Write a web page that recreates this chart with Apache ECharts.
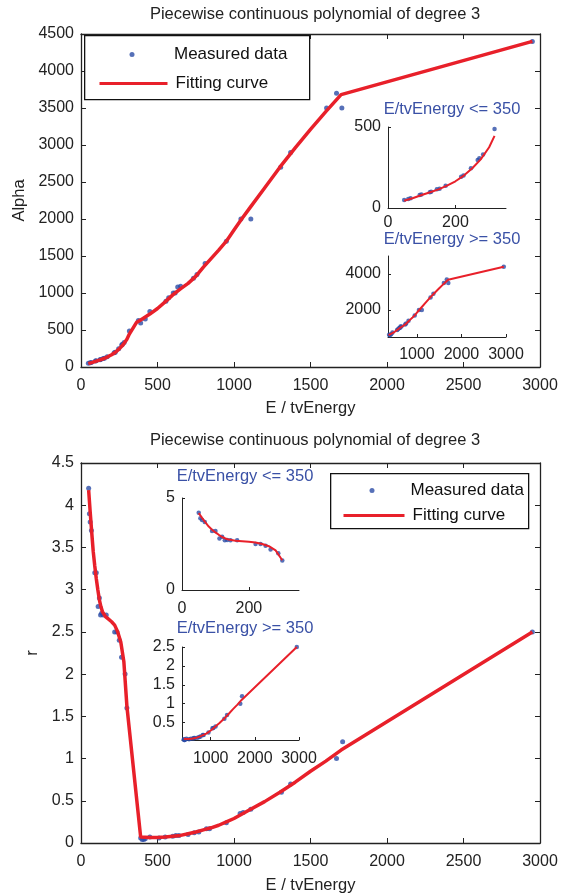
<!DOCTYPE html>
<html>
<head>
<meta charset="utf-8">
<script src="https://cdn.jsdelivr.net/npm/echarts@6/dist/echarts.min.js"></script>
<style>
  html, body { margin: 0; padding: 0; background: #fff; }
  #chart { width: 572px; height: 896px; }
</style>
</head>
<body>
<div id="chart"></div>
<script>
// measured Alpha, split at E/tvEnergy = 350
var alphaLowX = [48, 60, 67, 94, 99, 124, 128, 145, 153, 171, 217, 224, 246, 266, 271, 282, 316];
var alphaLowY = [49, 56, 60, 80, 84, 97, 101, 115, 119, 138, 193, 200, 245, 296, 307, 331, 488];
var alphaHighX = [375, 390, 420, 450, 555, 573, 603, 615, 632, 651, 735, 758, 811, 950, 1045, 1110, 1305, 1370, 1605, 1670, 1705, 2950];
var alphaHighY = [630, 595, 650, 750, 890, 936, 1000, 1000, 1080, 1090, 1200, 1250, 1400, 1700, 2000, 2000, 2700, 2900, 3500, 3700, 3500, 4400];
// fitted Alpha curve pieces
var alphaFitLowX = [48, 75, 100, 125, 150, 175, 200, 225, 250, 275, 300, 316];
var alphaFitLowY = [45, 62, 80, 97, 115, 138, 165, 200, 245, 300, 375, 445];
var alphaFitHighX = [362, 400, 450, 500, 550, 600, 650, 700, 750, 800, 850, 900, 950, 1000, 1050, 1100, 1200, 1300, 1400, 1500, 1600, 1700, 2950];
var alphaFitHighY = [600, 650, 715, 790, 880, 975, 1055, 1130, 1225, 1350, 1465, 1580, 1700, 1850, 2000, 2140, 2420, 2700, 2960, 3210, 3450, 3680, 4400];

// measured r
var rLowX = [50, 55, 60, 68, 90, 100, 112, 120, 128, 135, 145, 165, 220, 235, 250, 265, 288, 300];
var rLowY = [4.2, 3.9, 3.8, 3.7, 3.2, 3.2, 2.8, 2.9, 2.7, 2.72, 2.7, 2.7, 2.5, 2.5, 2.4, 2.2, 2.0, 1.6];
var rHighX = [390, 400, 410, 420, 450, 510, 550, 600, 620, 640, 700, 740, 770, 820, 840, 950, 1040, 1060, 1110, 1310, 1370, 1670, 1710, 2950];
var rHighY = [0.06, 0.04, 0.04, 0.05, 0.07, 0.06, 0.07, 0.08, 0.09, 0.09, 0.10, 0.12, 0.13, 0.17, 0.17, 0.24, 0.35, 0.36, 0.40, 0.60, 0.70, 1.0, 1.2, 2.5];
// fitted r curve pieces
var rFitLowX = [50, 60, 70, 80, 90, 100, 110, 120, 130, 140, 160, 180, 200, 220, 240, 260, 280, 300];
var rFitLowY = [4.18, 3.92, 3.68, 3.45, 3.28, 3.13, 3.0, 2.88, 2.8, 2.74, 2.68, 2.65, 2.62, 2.58, 2.5, 2.38, 2.15, 1.62];
var rFitHighX = [390, 450, 500, 550, 600, 650, 700, 750, 800, 850, 900, 950, 1000, 1050, 1100, 1200, 1300, 1400, 1500, 1600, 1700, 2950];
var rFitHighY = [0.07, 0.065, 0.065, 0.07, 0.08, 0.09, 0.11, 0.13, 0.155, 0.18, 0.21, 0.25, 0.29, 0.34, 0.39, 0.49, 0.6, 0.72, 0.85, 0.97, 1.1, 2.5];

function zip(xs, ys) {
  var res = [];
  for (var i = 0; i < xs.length; i++) res.push([xs[i], ys[i]]);
  return res;
}

var BLUE = "#2c4ca6";
var RED = "#e8202a";
var INK = "#222";
var FONT = "Liberation Sans";

function plain(v) { return String(v); }

function mainAxis(grid, pos, min, max, step, name, gap, showLabel) {
  return {
    type: "value", gridIndex: grid, position: pos,
    min: min, max: max, interval: step,
    name: name, nameLocation: "middle", nameGap: gap,
    nameTextStyle: { fontSize: 16.5, color: INK },
    axisLine: { show: true, onZero: false, lineStyle: { color: INK, width: 1.3 } },
    axisTick: { show: true, inside: true, length: 5, lineStyle: { color: INK } },
    axisLabel: { show: showLabel, fontSize: 16, color: INK, margin: pos == "left" ? 7 : 11, formatter: plain },
    splitLine: { show: false }
  };
}

function insetAxis(grid, pos, min, max, ticks, margin) {
  return {
    type: "value", gridIndex: grid, position: pos,
    min: min, max: max,
    axisLine: { show: true, onZero: false, lineStyle: { color: INK, width: 1 } },
    axisTick: { show: true, inside: true, length: 3, customValues: ticks, lineStyle: { color: INK } },
    axisLabel: { fontSize: 16, color: INK, margin: margin, customValues: ticks, formatter: plain },
    splitLine: { show: false }
  };
}

function pair(xi, yi, pts, fit, big) {
  return [
    {
      name: "Measured data", type: "scatter", xAxisIndex: xi, yAxisIndex: yi,
      data: pts, symbolSize: big ? 5 : 4.5, itemStyle: { color: BLUE }, z: 2
    },
    {
      name: "Fitting curve", type: "line", xAxisIndex: xi, yAxisIndex: yi,
      data: fit, symbol: "none", itemStyle: { color: RED },
      lineStyle: { color: RED, width: big ? 3.5 : 2 }, z: 3
    }
  ];
}

var alphaLow = zip(alphaLowX, alphaLowY), alphaHigh = zip(alphaHighX, alphaHighY);
var alphaFitLow = zip(alphaFitLowX, alphaFitLowY), alphaFitHigh = zip(alphaFitHighX, alphaFitHighY);
var rLow = zip(rLowX, rLowY), rHigh = zip(rHighX, rHighY);
var rFitLow = zip(rFitLowX, rFitLowY), rFitHigh = zip(rFitHighX, rFitHighY);

var chart = echarts.init(document.getElementById("chart"));

var insetTitle = { fontSize: 16.5, fontWeight: "normal", color: "#3a51a6" };
var mainTitle = { fontSize: 16.5, fontWeight: "normal", color: INK };
var legendText = { fontSize: 17, color: "#111" };
var lineLegendText = { fontSize: 17, color: "#111", padding: [0, 0, 0, 3] };
var legendLine = { color: RED, width: 3 };

var option = {
  animation: false,
  textStyle: { fontFamily: FONT },
  title: [
    { text: "Piecewise continuous polynomial of degree 3", left: 310, top: 1, textAlign: "center", textStyle: mainTitle },
    { text: "E/tvEnergy <= 350", left: 447, top: 96, textAlign: "center", textStyle: insetTitle },
    { text: "E/tvEnergy >= 350", left: 447, top: 226, textAlign: "center", textStyle: insetTitle },
    { text: "Piecewise continuous polynomial of degree 3", left: 310, top: 427, textAlign: "center", textStyle: mainTitle },
    { text: "E/tvEnergy <= 350", left: 240, top: 463, textAlign: "center", textStyle: insetTitle },
    { text: "E/tvEnergy >= 350", left: 240, top: 615, textAlign: "center", textStyle: insetTitle }
  ],
  grid: [
    { left: 81, top: 34, width: 459, height: 333 },
    { left: 388, top: 127, width: 118, height: 81 },
    { left: 388, top: 256, width: 118, height: 81 },
    { left: 81, top: 463, width: 459, height: 380 },
    { left: 182, top: 498, width: 117, height: 92 },
    { left: 182, top: 647, width: 117, height: 93 }
  ],
  xAxis: [
    mainAxis(0, "bottom", 0, 3000, 500, "E / tvEnergy", 33, true),
    mainAxis(0, "top", 0, 3000, 500, "", 0, false),
    insetAxis(1, "bottom", 0, 350, [0, 200], 7),
    insetAxis(2, "bottom", 350, 3000, [1000, 2000, 3000], 10),
    mainAxis(3, "bottom", 0, 3000, 500, "E / tvEnergy", 34, true),
    mainAxis(3, "top", 0, 3000, 500, "", 0, false),
    insetAxis(4, "bottom", 0, 350, [0, 200], 11),
    insetAxis(5, "bottom", 350, 3000, [1000, 2000, 3000], 11)
  ],
  yAxis: [
    mainAxis(0, "left", 0, 4500, 500, "Alpha", 47, true),
    mainAxis(0, "right", 0, 4500, 500, "", 0, false),
    insetAxis(1, "left", 0, 500, [0, 500], 7),
    insetAxis(2, "left", 500, 5000, [2000, 4000], 7),
    mainAxis(3, "left", 0, 4.5, 0.5, "r", 35, true),
    mainAxis(3, "right", 0, 4.5, 0.5, "", 0, false),
    insetAxis(4, "left", 0, 5, [0, 5], 7),
    insetAxis(5, "left", 0.04, 2.5, [0.5, 1, 1.5, 2, 2.5], 7)
  ],
  graphic: [
    { type: "rect", left: 84, top: 35, shape: { width: 225, height: 64 }, style: { fill: "#fff", stroke: "#111", lineWidth: 1.3 }, z: 5 },
    { type: "rect", left: 330, top: 473, shape: { width: 198, height: 55 }, style: { fill: "#fff", stroke: "#111", lineWidth: 1.3 }, z: 5 }
  ],
  legend: [
    { data: ["Measured data"], left: 129.5, top: 46, padding: 0, itemWidth: 74, itemHeight: 5, selectedMode: false, z: 6, textStyle: legendText },
    { data: ["Fitting curve"], left: 98, top: 75, padding: 0, itemWidth: 68, itemHeight: 14, selectedMode: false, z: 6, itemStyle: { opacity: 0 }, lineStyle: legendLine, textStyle: lineLegendText },
    { data: ["Measured data"], left: 369.5, top: 482, padding: 0, itemWidth: 67, itemHeight: 5, selectedMode: false, z: 6, textStyle: legendText },
    { data: ["Fitting curve"], left: 342, top: 507, padding: 0, itemWidth: 61, itemHeight: 14, selectedMode: false, z: 6, itemStyle: { opacity: 0 }, lineStyle: legendLine, textStyle: lineLegendText }
  ],
  series: [].concat(
    pair(0, 0, alphaLow.concat(alphaHigh), alphaFitLow.concat(alphaFitHigh), true),
    pair(2, 2, alphaLow, alphaFitLow, false),
    pair(3, 3, alphaHigh, alphaFitHigh, false),
    pair(4, 4, rLow.concat(rHigh), rFitLow.concat(rFitHigh), true),
    pair(6, 6, rLow, rFitLow, false),
    pair(7, 7, rHigh, rFitHigh, false)
  )
};

chart.setOption(option);
</script>
</body>
</html>
